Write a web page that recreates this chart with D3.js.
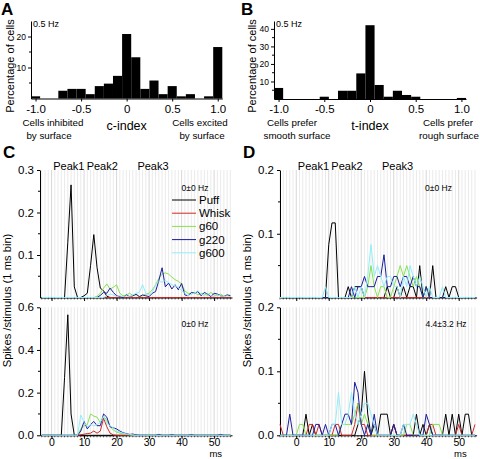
<!DOCTYPE html>
<html><head><meta charset="utf-8">
<script src="https://cdn.jsdelivr.net/npm/d3@7/dist/d3.min.js"></script>
<style>
html,body{margin:0;padding:0;background:#fff;}
svg{display:block;}
svg text{font-family:"Liberation Sans",Arial,Helvetica,sans-serif;fill:#000;}
</style></head><body>
<svg id="fig" width="480" height="459"></svg>
<script>
// ================= DATA =================
// Histogram bins (bin centres) for panels A and B
const indexBins = [-1.0,-0.9,-0.8,-0.7,-0.6,-0.5,-0.4,-0.3,-0.2,-0.1,0,0.1,0.2,0.3,0.4,0.5,0.6,0.7,0.8,0.9,1.0];
const cIndexPct = [0.7,0,0,2.5,3.1,3.1,1.4,4.0,4.8,7.3,20.8,13.3,3.1,5.8,1.4,4.0,0.7,1.4,0,0.7,16.6];
const tIndexPct = [6.3,0,0,0,0,1.3,0,4.7,4.7,14.6,42.1,8.0,1.3,4.7,2.3,1.3,0,0,0,0,0.6];
const histXTicks = [-1,-0.5,0,0.5,1];

// PSTH time bins (ms)
const msC = d3.range(-3, 56);   // panel C: -3 .. 55 ms
const msD = d3.range(-5, 56);   // panel D: -5 .. 55 ms
const seriesNames = ["Puff","Whisk","g60","g220","g600"];
const seriesColors = ["#000000","#d02828","#86e24e","#1c1c9e","#90eef8"];
const msTicks = [0,10,20,30,40,50];
const peakNames = ["Peak1","Peak2","Peak3"];
const peakMs = [5.3,15.6,31.2];

// ---- Panel C, top (ms -3..55) ----
const cTopPuff = [0,0,0,0,0,0,0,0,0.13,0.265, 0.025,0,0,0.004,0.01,0.075,0.148,0.07,0.022,0.016,
  0.003,0,0,0,0,0,0,0,0,0, 0,0,0,0,0,0,0,0,0,0, 0,0,0,0,0,0,0,0,0,0, 0,0,0,0,0,0,0,0,0];
const cTopWhisk = [0,0,0,0,0,0,0,0,0,0, 0,0,0,0,0,0,0,0,0,0, 0,0,0,0,0,0,0,0,0,0,
  0,0,0,0,0,0,0,0,0,0, 0,0,0,0,0,0,0,0,0,0, 0,0,0,0,0,0,0,0,0];
const cTopG60 = [0,0,0,0,0,0,0,0,0,0, 0,0,0,0,0,0,0,0.003,0.01,0.022,
  0.032,0.02,0.024,0.03,0.01,0.004,0.006,0.01,0.005,0.006,
  0.002,0.004,0.008,0.01,0.018,0.03,0.045,0.055,0.058,0.055,
  0.048,0.042,0.038,0.032,0.015,0.01,0.008,0.012,0.006,0.01,
  0.008,0.005,0.012,0.006,0.004,0.008,0.003,0.006,0.005];
const cTopG220 = [0,0,0,0,0,0,0,0,0,0, 0,0,0,0,0,0,0,0,0.005,0.012,
  0.01,0.022,0.012,0.004,0.002,0,0.006,0.002,0.004,0.008,
  0.002,0.006,0.004,0.002,0.01,0.014,0.04,0.07,0.025,0.034,
  0.02,0.03,0.018,0.033,0.006,0.004,0.012,0.01,0.014,0.004,
  0.012,0.008,0.002,0.01,0.008,0.004,0.002,0.006,0.004];
const cTopG600 = [0,0,0,0,0,0,0,0,0,0, 0,0,0,0,0,0,0,0,0,0,
  0.004,0.008,0.006,0.002,0.004,0.002,0.004,0.002,0.006,0.01,
  0.012,0.03,0.01,0.006,0.012,0.03,0.038,0.036,0.04,0.035,
  0.03,0.028,0.024,0.016,0.01,0.004,0.008,0.01,0.016,0.008,
  0.004,0.01,0.004,0.002,0.006,0.004,0.002,0.004,0.002];

// ---- Panel C, bottom (ms -3..55) ----
const cBotPuff = [0,0,0,0,0,0,0,0.27,0.565,0.1, 0,0,0,0,0,0,0,0,0,0,
  0,0,0,0,0,0,0,0,0,0, 0,0,0,0,0,0,0,0,0,0, 0,0,0,0,0,0,0,0,0,0, 0,0,0,0,0,0,0,0,0];
const cBotWhisk = [0,0,0,0,0,0,0,0,0,0, 0,0,0.003,0.005,0.008,0.01,0.02,0.01,0.02,0.08,
  0.04,0.01,0.002,0,0,0,0,0,0,0, 0,0,0,0,0,0,0,0,0,0, 0,0,0,0,0,0,0,0,0,0, 0,0,0,0,0,0,0,0,0];
const cBotG60 = [0,0,0,0,0,0,0,0,0,0, 0,0,0.03,0.045,0.05,0.1,0.09,0.085,0.06,0.09,
  0.07,0.04,0.025,0.015,0.01,0.006,0.004,0.002,0,0, 0,0,0,0.003,0,0,0,0,0,0,
  0,0,0,0,0,0,0,0,0,0, 0,0,0,0,0,0,0,0,0];
const cBotG220 = [0,0,0,0,0,0,0,0,0,0, 0,0,0.02,0.065,0.03,0.05,0.065,0.045,0.045,0.1,
  0.085,0.04,0.035,0.03,0.02,0.012,0.008,0.004,0.006,0.002,
  0,0,0,0,0,0,0.004,0,0,0, 0.003,0,0,0,0,0,0.003,0,0,0, 0,0,0,0,0,0.004,0,0,0];
const cBotG600 = [0,0,0,0,0,0,0,0,0,0, 0,0,0.095,0.06,0.04,0.05,0.045,0.05,0.06,0.09,
  0.055,0.045,0.035,0.02,0.015,0.01,0.006,0.004,0.002,0,
  0,0,0,0,0,0,0,0,0,0, 0,0,0,0,0,0,0,0,0,0, 0,0,0,0,0,0,0,0,0];

// ---- Panel D, top (ms -5..55) ----
const dTopPuff = [0,0,0,0,0,0,0,0,0,0, 0,0,0,0,0,0.083,0.117,0.117,0,0,
  0,0.017,0,0.017,0.017,0.017,0,0,0,0, 0,0,0,0.017,0,0,0.017,0,0.017,0,
  0.017,0.017,0,0.05,0,0.017,0,0.05,0,0, 0,0.017,0,0.017,0.017,0,0,0,0,0, 0];
const dTopWhisk = [0,0,0,0,0,0,0,0,0,0, 0,0,0,0,0,0,0,0,0,0, 0,0,0,0,0,0,0,0,0,0,
  0,0,0,0,0,0,0,0,0,0, 0,0,0,0,0,0,0,0,0,0, 0,0,0,0,0,0,0,0,0,0, 0];
const dTopG60 = [0,0,0,0,0,0,0,0,0,0, 0,0,0,0,0,0,0,0,0,0,
  0,0,0,0,0,0,0,0.017,0.05,0.017, 0,0.017,0.017,0,0,0.017,0.033,0.05,0.033,0.05,
  0.033,0.017,0.033,0.017,0,0.017,0,0,0,0, 0,0,0,0,0,0,0,0,0,0, 0];
const dTopG220 = [0,0,0,0,0,0,0,0,0,0, 0,0,0,0,0,0,0,0,0,0,
  0,0,0.017,0,0.017,0.017,0.033,0.017,0.017,0.017, 0.033,0.033,0.067,0.017,0.017,0.033,0.033,0.017,0.033,0.033,
  0.017,0.033,0.017,0.017,0,0.017,0,0,0,0, 0,0,0,0,0,0,0,0,0,0, 0];
const dTopG600 = [0,0,0,0,0,0,0,0,0,0, 0,0,0,0,0.017,0,0,0,0,0,
  0,0,0,0.017,0,0.017,0,0.033,0.083,0.033, 0.05,0.033,0.017,0.033,0.033,0.017,0.017,0,0.033,0.017,
  0.05,0.033,0.017,0.033,0.017,0,0.017,0,0,0, 0.017,0,0,0,0,0,0,0,0,0, 0];

// ---- Panel D, bottom (ms -5..55) ----
const dBotPuff = [0,0,0,0,0,0,0,0,0.033,0, 0.017,0,0,0,0,0,0,0,0,0,
  0,0,0,0,0.017,0.033,0.1,0.033,0,0.017, 0,0.033,0.033,0.033,0,0.017,0,0,0,0,
  0,0,0.033,0,0.017,0,0.017,0,0,0, 0,0.033,0,0.033,0,0.033,0,0.033,0.033,0, 0];
const dBotWhisk = [0.017,0,0,0,0,0,0,0,0,0.017, 0.017,0,0.017,0,0,0,0,0.017,0.017,0,
  0,0,0,0.017,0.05,0.017,0.017,0,0,0, 0,0,0,0,0,0.017,0,0,0,0,
  0,0,0,0,0,0,0.017,0.017,0,0, 0,0,0,0,0,0.017,0,0,0,0, 0.017];
const dBotG60 = [0,0,0,0,0,0,0.017,0.017,0,0, 0,0,0,0,0,0,0,0,0,0.017,
  0.017,0.017,0.017,0.033,0.05,0.017,0.033,0.017,0,0, 0,0,0,0,0,0,0,0,0,0.017,
  0.017,0,0,0,0,0,0,0.017,0.017,0.017, 0,0,0,0,0,0,0,0,0,0, 0];
const dBotG220 = [0,0,0,0.033,0,0,0,0,0,0, 0,0.017,0.017,0,0.017,0,0.017,0.017,0,0.017,
  0.033,0.033,0.017,0.083,0.067,0.017,0,0.017,0,0.033, 0,0,0,0,0,0.017,0,0,0.017,0,
  0,0,0,0,0,0.033,0.017,0,0,0, 0,0,0,0,0,0,0,0,0,0, 0];
const dBotG600 = [0,0,0,0,0,0,0,0,0,0, 0,0,0,0,0,0,0.017,0.017,0.067,0.017,
  0.017,0.033,0.067,0.033,0.017,0.033,0.05,0.05,0.033,0.017, 0,0,0,0,0,0,0,0,0.017,0.017,
  0.017,0.033,0.017,0,0,0,0,0,0,0, 0,0,0,0,0,0,0,0,0,0, 0];

// ================= DRAWING =================
const svg = d3.select("#fig");
const FONT = '"Liberation Sans", Arial, Helvetica, sans-serif';

function styleAxis(sel, fs) {
  sel.attr("font-family", FONT).attr("font-size", fs);
  sel.selectAll("path.domain").attr("stroke", "#000").attr("stroke-width", 1);
  sel.selectAll(".tick line").attr("stroke", "#000").attr("stroke-width", 1);
  sel.selectAll(".tick text").attr("fill", "#000");
}
function fmtIdx(d) { return d === 0 ? "0" : (d < 0 ? "-" : "") + Math.abs(d).toFixed(1); }

function histPanel(o) {
  const g = svg.append("g");
  const x = d3.scaleLinear().domain([-1.05, 1.05]).range(o.xr);
  const y = d3.scaleLinear().domain(o.yd).range(o.yr);
  const rows = o.values.map((v, i) => ({ c: indexBins[i], v })).filter(d => d.v > 0);
  g.selectAll("rect").data(rows).join("rect")
    .attr("x", d => x(d.c - 0.05)).attr("width", d => x(d.c + 0.05) - x(d.c - 0.05))
    .attr("y", d => y(d.v)).attr("height", d => y(0) - y(d.v)).attr("fill", "#000");
  const ya = g.append("g").attr("transform", `translate(${o.xr[0]},0)`)
    .call(d3.axisLeft(y).tickValues(o.yt).tickSize(3).tickSizeOuter(0).tickPadding(2).tickFormat(d3.format("d")));
  styleAxis(ya, 8.5);
  g.append("g").selectAll("line").data(o.ym).join("line")
    .attr("x1", o.xr[0] - 2).attr("x2", o.xr[0]).attr("y1", d => y(d)).attr("y2", d => y(d)).attr("stroke", "#000");
  const xa = g.append("g").attr("transform", `translate(0,${o.yr[0]})`)
    .call(d3.axisBottom(x).tickValues(histXTicks).tickSize(3).tickSizeOuter(0).tickPadding(3).tickFormat(fmtIdx));
  styleAxis(xa, 11.5);
  g.append("text").attr("x", o.xr[0] + 2).attr("y", 27).attr("font-size", 9).text("0.5 Hz");
  g.append("text").attr("transform", `translate(${o.ylx},66) rotate(-90)`)
    .attr("text-anchor", "middle").attr("dominant-baseline", "central").attr("font-size", 11).text("Percentage of cells");
  g.append("text").attr("x", x(0)).attr("y", 129.5).attr("text-anchor", "middle").attr("font-size", 12.5).text(o.xlabel);
  o.notes.forEach(n => {
    g.append("text").attr("x", n.x).attr("y", n.y).attr("text-anchor", "middle").attr("font-size", 9.8).text(n.t);
  });
  g.append("text").attr("x", o.letter[1]).attr("y", 15).attr("font-size", 17).attr("font-weight", "bold").text(o.letter[0]);
}

histPanel({ values: cIndexPct, xr: [31, 222.3], yd: [0, 25], yr: [98.5, 21], yt: [10, 20], ym: [5, 15],
  xlabel: "c-index", ylx: 9.5, letter: ["A", 1],
  notes: [{ x: 53, y: 126, t: "Cells inhibited" }, { x: 49, y: 139, t: "by surface" },
          { x: 200, y: 126, t: "Cells excited" }, { x: 202, y: 139, t: "by surface" }] });
histPanel({ values: tIndexPct, xr: [274, 466], yd: [0, 44.5], yr: [99, 21], yt: [10, 20, 30, 40], ym: [5, 15, 25, 35],
  xlabel: "t-index", ylx: 251.5, letter: ["B", 241],
  notes: [{ x: 292, y: 126, t: "Cells prefer" }, { x: 297, y: 139, t: "smooth surface" },
          { x: 448, y: 126, t: "Cells prefer" }, { x: 449, y: 139, t: "rough surface" }] });

function linePanel(o) {
  const g = svg.append("g");
  const x = d3.scaleLinear().domain(o.xd).range(o.xr);
  const y = d3.scaleLinear().domain(o.yd).range(o.yr);
  const gridMs = d3.range(Math.ceil(o.xd[0]), Math.floor(o.xd[1]) + 1);
  g.append("g").selectAll("line").data(gridMs).join("line")
    .attr("x1", d => x(d)).attr("x2", d => x(d)).attr("y1", o.yr[1]).attr("y2", o.yr[0])
    .attr("stroke", d => d % 10 === 0 ? "#d2d2d2" : "#e8e8e8").attr("stroke-width", 0.9);
  // minor x ticks (1 ms)
  g.append("g").selectAll("line").data(gridMs).join("line")
    .attr("x1", d => x(d)).attr("x2", d => x(d)).attr("y1", o.yr[0]).attr("y2", o.yr[0] + 2)
    .attr("stroke", "#333").attr("stroke-width", 0.8);
  const xa = g.append("g").attr("transform", `translate(0,${o.yr[0]})`)
    .call(d3.axisBottom(x).tickValues(msTicks).tickSize(3.5).tickSizeOuter(0).tickPadding(0)
      .tickFormat(o.xlabels ? d3.format("d") : ""));
  styleAxis(xa, 10.5);
  const ya = g.append("g").attr("transform", `translate(${o.xr[0]},0)`)
    .call(d3.axisLeft(y).tickValues(o.yt).tickSize(3).tickSizeOuter(0).tickPadding(3).tickFormat(d3.format(".1f")));
  styleAxis(ya, 11.5);
  g.append("g").selectAll("line").data(o.ym).join("line")
    .attr("x1", o.xr[0] - 2).attr("x2", o.xr[0]).attr("y1", d => y(d)).attr("y2", d => y(d)).attr("stroke", "#000");
  // series
  const line = d3.line().x((d, i) => x(o.ms[i])).y(d => y(d));
  o.series.forEach((s, k) => {
    g.append("path").datum(s).attr("d", line).attr("fill", "none")
      .attr("stroke", seriesColors[k]).attr("stroke-width", 1).attr("stroke-linejoin", "miter");
  });
  g.append("text").attr("x", o.hz[0]).attr("y", o.hz[1]).attr("text-anchor", "middle").attr("font-size", 8.5).text(o.hzText);
  if (o.peaks) {
    g.selectAll("text.pk").data(peakNames).join("text").attr("class", "pk")
      .attr("x", (d, i) => x(peakMs[i])).attr("y", 169.5).attr("text-anchor", "middle").attr("font-size", 11).text(d => d);
  }
  if (o.xlabels) {
    g.append("text").attr("x", x(50.5)).attr("y", 456.9).attr("text-anchor", "middle").attr("font-size", 9.5).text("ms");
  }
  if (o.legend) {
    seriesNames.forEach((n, k) => {
      const yy = 200 + k * 13.2;
      g.append("line").attr("x1", 172).attr("x2", 196).attr("y1", yy).attr("y2", yy)
        .attr("stroke", seriesColors[k]).attr("stroke-width", 1);
      g.append("text").attr("x", 199).attr("y", yy + 4).attr("font-size", 11.5).text(n);
    });
  }
  return { x, y };
}

linePanel({ xd: [-3.55, 55.5], xr: [40, 232], yd: [0, 0.3], yr: [297.5, 170], yt: [0.1, 0.2, 0.3], ym: [0.05, 0.15, 0.25],
  ms: msC, series: [cTopPuff, cTopWhisk, cTopG60, cTopG220, cTopG600], hz: [195, 191], hzText: "0±0 Hz",
  peaks: true, legend: true, xlabels: false });
linePanel({ xd: [-3.55, 55.5], xr: [40, 232], yd: [0, 0.6], yr: [435.3, 307.3], yt: [0, 0.2, 0.4, 0.6], ym: [0.1, 0.3, 0.5],
  ms: msC, series: [cBotPuff, cBotWhisk, cBotG60, cBotG220, cBotG600], hz: [195, 327], hzText: "0±0 Hz",
  peaks: false, legend: false, xlabels: true });
linePanel({ xd: [-5, 55.5], xr: [280, 476.6], yd: [0, 0.2], yr: [297.5, 170], yt: [0.1, 0.2], ym: [0.05, 0.15],
  ms: msD, series: [dTopPuff, dTopWhisk, dTopG60, dTopG220, dTopG600], hz: [438.5, 191], hzText: "0±0 Hz",
  peaks: true, legend: false, xlabels: false });
linePanel({ xd: [-5, 55.5], xr: [280, 476.6], yd: [0, 0.2], yr: [435.3, 307.3], yt: [0, 0.1, 0.2], ym: [0.05, 0.15],
  ms: msD, series: [dBotPuff, dBotWhisk, dBotG60, dBotG220, dBotG600], hz: [446, 327], hzText: "4.4±3.2 Hz",
  peaks: false, legend: false, xlabels: true });

// shared y labels and panel letters
[[7, "C", 3], [246.5, "D", 243]].forEach(([lx, letter, letx]) => {
  svg.append("text").attr("transform", `translate(${lx},300.5) rotate(-90)`)
    .attr("text-anchor", "middle").attr("dominant-baseline", "central").attr("font-size", 11.2)
    .text("Spikes /stimulus (1 ms bin)");
  svg.append("text").attr("x", letx).attr("y", 158).attr("font-size", 17).attr("font-weight", "bold").text(letter);
});
</script>
</body></html>
